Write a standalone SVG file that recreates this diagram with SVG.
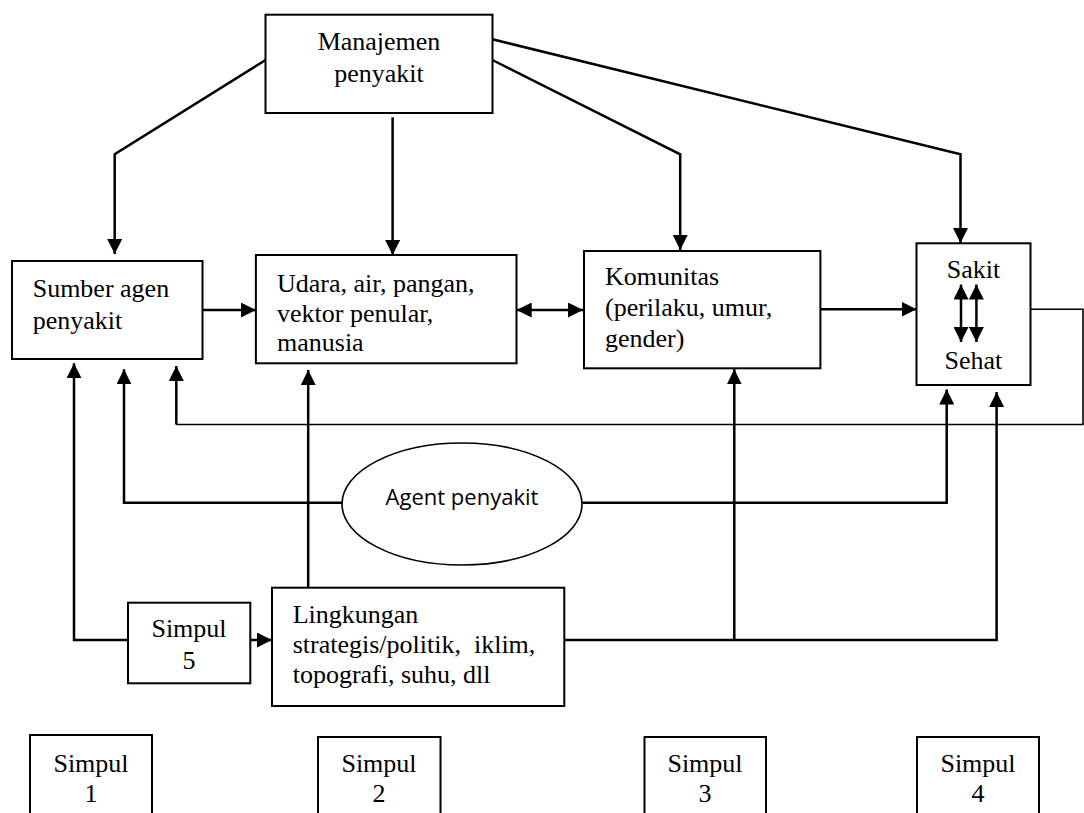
<svg xmlns="http://www.w3.org/2000/svg" width="1084" height="813" viewBox="0 0 1084 813">
<style>
.box{fill:#fff;stroke:#000;stroke-width:2}
.t{font-family:"Liberation Serif","Times New Roman",serif;font-size:26px;fill:#000}
.c{text-anchor:middle}
.ln{fill:none;stroke:#000;stroke-width:2.5}
.thin{fill:none;stroke:#000;stroke-width:1.6}
</style>
<defs>
<marker id="arr" viewBox="0 0 15 15" refX="15" refY="7.5" markerWidth="15" markerHeight="15" markerUnits="userSpaceOnUse" orient="auto-start-reverse">
<path d="M0,0 L15,7.5 L0,15 Z" fill="#000"/>
</marker>
</defs>
<rect width="1084" height="813" fill="#fff"/>
<g id="connectors">
<path class="ln" d="M265.5,60 L114.7,154.3 L114.7,254" marker-end="url(#arr)"/>
<path class="ln" d="M392.6,117.3 L392.6,255" marker-end="url(#arr)"/>
<path class="ln" d="M492.4,60 L680.2,154.3 L680.2,250" marker-end="url(#arr)"/>
<path class="ln" d="M492.4,39.3 L960.5,154.3 L960.5,243" marker-end="url(#arr)"/>
<path class="ln" d="M202.5,310 L255.9,310" marker-end="url(#arr)"/>
<path class="ln" d="M516.7,310 L583,310" marker-start="url(#arr)" marker-end="url(#arr)"/>
<path class="ln" d="M820.4,309.3 L916.5,309.3" marker-end="url(#arr)"/>
<path class="thin" d="M1030.5,309.3 L1083,309.3 L1083,424.5 L176.3,424.5"/>
<path class="ln" d="M176.3,424.5 L176.3,366" marker-end="url(#arr)"/>
<path class="ln" d="M128,640 L74,640 L74,363.3" marker-end="url(#arr)"/>
<path class="ln" d="M342,502.7 L124,502.7 L124,369.3" marker-end="url(#arr)"/>
<path class="ln" d="M582.3,502.7 L946.7,502.7 L946.7,389.5" marker-end="url(#arr)"/>
<path class="ln" d="M308.2,587.7 L308.2,370" marker-end="url(#arr)"/>
<path class="ln" d="M250.3,640 L272,640" marker-end="url(#arr)"/>
<path class="ln" d="M564.3,640 L996.6,640 L996.6,392" marker-end="url(#arr)"/>
<path class="ln" d="M734.3,640 L734.3,369.3" marker-end="url(#arr)"/>
</g>
<g id="manajemen">
<rect class="box" x="265.5" y="14.7" width="227" height="98.3"/>
<text class="t c" x="379" y="50">Manajemen</text>
<text class="t c" x="379" y="82">penyakit</text>
</g>
<g id="sumber">
<rect class="box" x="12" y="261" width="190.5" height="98"/>
<text class="t" x="32.7" y="297">Sumber agen</text>
<text class="t" x="32.7" y="329">penyakit</text>
</g>
<g id="udara">
<rect class="box" x="255.9" y="255" width="260.6" height="108.3"/>
<text class="t" x="277" y="292">Udara, air, pangan,</text>
<text class="t" x="277" y="322">vektor penular,</text>
<text class="t" x="277" y="351">manusia</text>
</g>
<g id="komunitas">
<rect class="box" x="584" y="251" width="236.4" height="117.3"/>
<text class="t" x="605" y="285">Komunitas</text>
<text class="t" x="605" y="316">(perilaku, umur,</text>
<text class="t" x="605" y="347">gender)</text>
</g>
<g id="sakit-sehat">
<rect class="box" x="916.5" y="243.3" width="114" height="141.7"/>
<text class="t c" x="973.4" y="278">Sakit</text>
<text class="t c" x="973.4" y="369">Sehat</text>
<path class="ln" d="M961,284.5 L961,342" marker-start="url(#arr)" marker-end="url(#arr)"/>
<path class="ln" d="M976.4,284.5 L976.4,342" marker-start="url(#arr)" marker-end="url(#arr)"/>
</g>
<g id="agent">
<ellipse cx="462" cy="504" rx="120" ry="61" fill="#fff" stroke="#000" stroke-width="1.6"/>
<text x="462" y="505" text-anchor="middle" font-family="'Open Sans','Liberation Sans',sans-serif" font-size="22">Agent penyakit</text>
</g>
<g id="simpul5">
<rect class="box" x="128" y="602.7" width="122.3" height="80.6"/>
<text class="t c" x="189" y="637">Simpul</text>
<text class="t c" x="189" y="669">5</text>
</g>
<g id="lingkungan">
<rect class="box" x="272" y="587.7" width="292.3" height="118.3"/>
<text class="t" x="292.7" y="623">Lingkungan</text>
<text class="t" x="292.7" y="653" style="white-space:pre">strategis/politik,  iklim,</text>
<text class="t" x="292.7" y="683">topografi, suhu, dll</text>
</g>
<g id="simpul1">
<rect class="box" x="30" y="735" width="122" height="90"/>
<text class="t c" x="91" y="772">Simpul</text>
<text class="t c" x="91" y="802">1</text>
</g>
<g id="simpul2">
<rect class="box" x="318" y="737" width="122.5" height="90"/>
<text class="t c" x="379" y="772">Simpul</text>
<text class="t c" x="379" y="802">2</text>
</g>
<g id="simpul3">
<rect class="box" x="644.5" y="737" width="121.5" height="90"/>
<text class="t c" x="705" y="772">Simpul</text>
<text class="t c" x="705" y="802">3</text>
</g>
<g id="simpul4">
<rect class="box" x="917" y="737" width="122" height="90"/>
<text class="t c" x="978" y="772">Simpul</text>
<text class="t c" x="978" y="802">4</text>
</g>
</svg>
